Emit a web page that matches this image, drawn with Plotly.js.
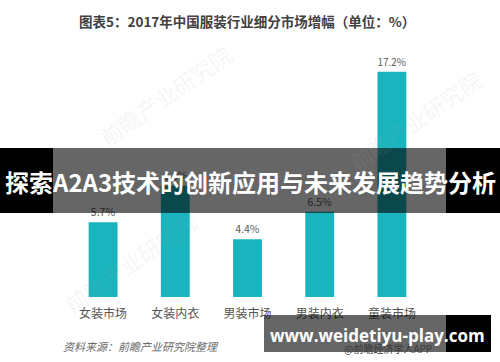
<!DOCTYPE html>
<html>
<head>
<meta charset="utf-8">
<script src="https://cdn.plot.ly/plotly-3.0.1.min.js"></script>
<style>
html,body{margin:0;padding:0;background:#fff;}
#chart{width:500px;height:362px;}
</style>
</head>
<body>
<div id="chart"></div>
<script>
const categories = ['女装市场', '女装内衣', '男装市场', '男装内衣', '童装市场'];
const growth = [5.7, 8.5, 4.4, 6.5, 17.2];
const chartTitle = '图表5：2017年中国服装行业细分市场增幅（单位：%）';
const sourceText = '资料来源：前瞻产业研究院整理';
const bannerText = '探索A2A3技术的创新应用与未来发展趋势分析';
const urlText = 'www.weidetiyu-play.com';
const appText = '@前瞻经济学人APP';
const watermark = '前瞻产业研究院';

const W = 500, H = 362;
const px = x => x / W;
const py = y => 1 - y / H;
const CJK = '"Noto Sans CJK SC", "Noto Sans", sans-serif';

const trace = {
  type: 'bar',
  x: categories,
  y: growth,
  marker: {color: '#19b4be'},
  text: growth.map(v => v.toFixed(1) + '%'),
  textposition: 'outside',
  textfont: {family: CJK, size: 10.5, color: '#5a5a5a'},
  cliponaxis: false,
  hoverinfo: 'none'
};

function note(text, x, y, font, extra) {
  return Object.assign({text: text, x: px(x), y: py(y), xref: 'paper', yref: 'paper',
    xanchor: 'center', yanchor: 'middle', showarrow: false, font: font}, extra || {});
}

const wmPos = [[165, 95], [415, 120], [130, 262]];
const annotations = wmPos.map(p => note(watermark, p[0], p[1],
  {family: CJK, size: 22, color: 'rgba(170,170,170,0.12)'}, {textangle: -35}));

annotations.push(
  note('<b>' + chartTitle + '</b>', 247, 21, {family: CJK, size: 13.5, color: '#404040'}),
  note('<i>' + sourceText + '</i>', 61, 346, {family: CJK, size: 11, color: '#6a6a6a'}, {xanchor: 'left'}),
  note(appText, 388, 348, {family: CJK, size: 10, color: '#3a3a3a'}),
  note('<b>' + bannerText + '</b>', 250, 181, {family: CJK, size: 24, color: '#ffffff'}),
  note('<b>' + urlText + '</b>', 377, 335, {family: '"Open Sans", "DejaVu Sans", sans-serif', size: 17, color: '#ffffff'})
);

function rect(x0, x1, y0, y1, color) {
  return {type: 'rect', xref: 'paper', yref: 'paper', x0: px(x0), x1: px(x1), y0: py(y1), y1: py(y0),
    fillcolor: color, line: {width: 0}, layer: 'above'};
}

const shapes = [
  rect(0, 53, 148, 213, '#000000'),
  rect(446, 500, 148, 213, '#000000'),
  rect(53, 446, 148, 213, 'rgba(0,0,0,0.6)'),
  rect(264, 446, 315, 352, 'rgba(0,0,0,0.6)'),
  rect(446, 491, 315, 352, '#000000')
];

const layout = {
  width: W, height: H,
  margin: {l: 0, r: 0, t: 0, b: 0},
  paper_bgcolor: '#ffffff', plot_bgcolor: 'rgba(0,0,0,0)',
  showlegend: false,
  bargap: 0.6,
  xaxis: {domain: [px(67), px(428)], showline: false, showgrid: false, zeroline: false,
          ticks: 'outside', ticklen: 6, tickcolor: 'rgba(0,0,0,0)',
          tickfont: {family: CJK, size: 12, color: '#555555'}, fixedrange: true},
  yaxis: {domain: [py(297), py(35)], range: [0, 20], visible: false, showgrid: false,
          zeroline: false, fixedrange: true},
  annotations: annotations,
  shapes: shapes
};

Plotly.newPlot('chart', [trace], layout, {displayModeBar: false, staticPlot: true});
</script>
</body>
</html>
